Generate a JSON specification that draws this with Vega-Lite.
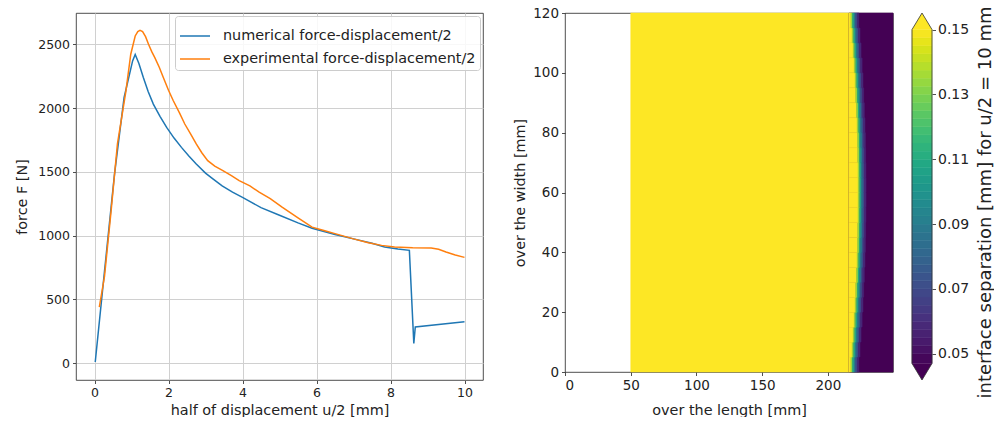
{
  "$schema": "https://vega.github.io/schema/vega-lite/v6.json",
  "padding": {"left": 14, "top": 5, "right": 0, "bottom": 0},
  "background": "white",
  "config": {
    "font": "DejaVu Sans",
    "view": {"stroke": "#222222", "strokeWidth": 0.8},
    "axis": {
      "labelFont": "DejaVu Sans", "titleFont": "DejaVu Sans",
      "labelFontSize": 12.5, "titleFontSize": 14.4, "titleFontWeight": "normal",
      "labelColor": "#222222", "titleColor": "#222222", "tickColor": "#222222",
      "tickSize": 3.5, "tickWidth": 0.8, "labelPadding": 3, "domain": false, "grid": false
    },
    "legend": {
      "labelFont": "DejaVu Sans", "labelFontSize": 14.4, "labelColor": "#222222", "labelLimit": 0,
      "symbolType": "stroke", "symbolStrokeWidth": 1.5, "symbolSize": 900,
      "fillColor": "rgba(255,255,255,0.85)", "strokeColor": "#cccccc", "cornerRadius": 3,
      "padding": 4, "rowPadding": -3, "labelOffset": 12
    }
  },
  "bounds": "flush",
  "spacing": 82,
  "resolve": {"scale": {"color": "independent"}, "legend": {"color": "independent"}},
  "hconcat": [
    {
      "width": 407,
      "height": 367,
      "data": {"values": [
        {"s": "numerical force-displacement/2", "u": 0.02, "F": 10},
        {"s": "numerical force-displacement/2", "u": 0.27, "F": 720},
        {"s": "numerical force-displacement/2", "u": 0.54, "F": 1480},
        {"s": "numerical force-displacement/2", "u": 0.8, "F": 2083},
        {"s": "numerical force-displacement/2", "u": 1.03, "F": 2370},
        {"s": "numerical force-displacement/2", "u": 1.1, "F": 2420},
        {"s": "numerical force-displacement/2", "u": 1.2, "F": 2350},
        {"s": "numerical force-displacement/2", "u": 1.32, "F": 2239},
        {"s": "numerical force-displacement/2", "u": 1.45, "F": 2130},
        {"s": "numerical force-displacement/2", "u": 1.59, "F": 2031},
        {"s": "numerical force-displacement/2", "u": 1.77, "F": 1935},
        {"s": "numerical force-displacement/2", "u": 1.95, "F": 1848},
        {"s": "numerical force-displacement/2", "u": 2.15, "F": 1765},
        {"s": "numerical force-displacement/2", "u": 2.35, "F": 1692},
        {"s": "numerical force-displacement/2", "u": 2.55, "F": 1625},
        {"s": "numerical force-displacement/2", "u": 2.75, "F": 1562},
        {"s": "numerical force-displacement/2", "u": 3.0, "F": 1490},
        {"s": "numerical force-displacement/2", "u": 3.2, "F": 1445},
        {"s": "numerical force-displacement/2", "u": 3.45, "F": 1390},
        {"s": "numerical force-displacement/2", "u": 3.73, "F": 1341},
        {"s": "numerical force-displacement/2", "u": 4.0, "F": 1300},
        {"s": "numerical force-displacement/2", "u": 4.5, "F": 1220},
        {"s": "numerical force-displacement/2", "u": 5.0, "F": 1160},
        {"s": "numerical force-displacement/2", "u": 5.5, "F": 1100},
        {"s": "numerical force-displacement/2", "u": 5.88, "F": 1058},
        {"s": "numerical force-displacement/2", "u": 6.5, "F": 1010},
        {"s": "numerical force-displacement/2", "u": 7.0, "F": 975},
        {"s": "numerical force-displacement/2", "u": 7.5, "F": 940},
        {"s": "numerical force-displacement/2", "u": 7.84, "F": 911},
        {"s": "numerical force-displacement/2", "u": 8.2, "F": 895},
        {"s": "numerical force-displacement/2", "u": 8.51, "F": 885},
        {"s": "numerical force-displacement/2", "u": 8.63, "F": 156},
        {"s": "numerical force-displacement/2", "u": 8.67, "F": 285},
        {"s": "numerical force-displacement/2", "u": 10.0, "F": 325},
        {"s": "experimental force-displacement/2", "u": 0.13, "F": 440},
        {"s": "experimental force-displacement/2", "u": 0.27, "F": 680},
        {"s": "experimental force-displacement/2", "u": 0.45, "F": 1198},
        {"s": "experimental force-displacement/2", "u": 0.62, "F": 1719},
        {"s": "experimental force-displacement/2", "u": 0.85, "F": 2135},
        {"s": "experimental force-displacement/2", "u": 0.98, "F": 2422},
        {"s": "experimental force-displacement/2", "u": 1.1, "F": 2565},
        {"s": "experimental force-displacement/2", "u": 1.17, "F": 2600},
        {"s": "experimental force-displacement/2", "u": 1.23, "F": 2609},
        {"s": "experimental force-displacement/2", "u": 1.3, "F": 2600},
        {"s": "experimental force-displacement/2", "u": 1.38, "F": 2560},
        {"s": "experimental force-displacement/2", "u": 1.46, "F": 2500},
        {"s": "experimental force-displacement/2", "u": 1.55, "F": 2440},
        {"s": "experimental force-displacement/2", "u": 1.63, "F": 2395},
        {"s": "experimental force-displacement/2", "u": 1.75, "F": 2320},
        {"s": "experimental force-displacement/2", "u": 1.86, "F": 2239},
        {"s": "experimental force-displacement/2", "u": 2.0, "F": 2140},
        {"s": "experimental force-displacement/2", "u": 2.13, "F": 2057},
        {"s": "experimental force-displacement/2", "u": 2.3, "F": 1960},
        {"s": "experimental force-displacement/2", "u": 2.44, "F": 1875},
        {"s": "experimental force-displacement/2", "u": 2.6, "F": 1795},
        {"s": "experimental force-displacement/2", "u": 2.75, "F": 1719},
        {"s": "experimental force-displacement/2", "u": 2.9, "F": 1650},
        {"s": "experimental force-displacement/2", "u": 3.06, "F": 1588},
        {"s": "experimental force-displacement/2", "u": 3.25, "F": 1545},
        {"s": "experimental force-displacement/2", "u": 3.47, "F": 1510},
        {"s": "experimental force-displacement/2", "u": 3.7, "F": 1470},
        {"s": "experimental force-displacement/2", "u": 3.91, "F": 1432},
        {"s": "experimental force-displacement/2", "u": 4.2, "F": 1390},
        {"s": "experimental force-displacement/2", "u": 4.45, "F": 1341},
        {"s": "experimental force-displacement/2", "u": 4.75, "F": 1290},
        {"s": "experimental force-displacement/2", "u": 5.07, "F": 1223},
        {"s": "experimental force-displacement/2", "u": 5.5, "F": 1140},
        {"s": "experimental force-displacement/2", "u": 5.88, "F": 1067},
        {"s": "experimental force-displacement/2", "u": 6.2, "F": 1040},
        {"s": "experimental force-displacement/2", "u": 6.5, "F": 1016},
        {"s": "experimental force-displacement/2", "u": 7.0, "F": 975},
        {"s": "experimental force-displacement/2", "u": 7.4, "F": 945},
        {"s": "experimental force-displacement/2", "u": 7.76, "F": 924},
        {"s": "experimental force-displacement/2", "u": 8.11, "F": 911},
        {"s": "experimental force-displacement/2", "u": 8.6, "F": 905},
        {"s": "experimental force-displacement/2", "u": 9.1, "F": 903},
        {"s": "experimental force-displacement/2", "u": 9.3, "F": 893},
        {"s": "experimental force-displacement/2", "u": 9.5, "F": 872},
        {"s": "experimental force-displacement/2", "u": 9.75, "F": 848},
        {"s": "experimental force-displacement/2", "u": 10.0, "F": 830}
      ]},
      "mark": {"type": "line", "strokeWidth": 1.5},
      "encoding": {
        "x": {"field": "u", "type": "quantitative",
          "scale": {"domain": [-0.5, 10.5], "nice": false, "zero": false},
          "axis": {"values": [0, 2, 4, 6, 8, 10], "format": "d", "title": "half of displacement u/2 [mm]", "grid": true, "gridColor": "#d0d0d0", "gridWidth": 1, "titlePadding": 4}},
        "y": {"field": "F", "type": "quantitative",
          "scale": {"domain": [-131, 2745], "nice": false, "zero": false},
          "axis": {"values": [0, 500, 1000, 1500, 2000, 2500], "format": "d", "title": "force F [N]", "grid": true, "gridColor": "#d0d0d0", "gridWidth": 1, "titlePadding": 8}},
        "color": {"field": "s", "type": "nominal",
          "scale": {"domain": ["numerical force-displacement/2", "experimental force-displacement/2"], "range": ["#1f77b4", "#ff7f0e"]},
          "legend": {"title": null, "orient": "top-right", "offset": 3}}
      }
    },
    {
      "bounds": "flush",
      "spacing": 19,
      "hconcat": [
        {
          "width": 328,
          "height": 359,
          "data": {"values": [
            {"x0": 50, "x1": 216.5, "y0": 0, "y1": 120, "v": 0.16},
            {"x0": 216, "x1": 249.5, "y0": 0, "y1": 120, "v": 0.045},
            {"y0": 0, "y1": 5, "x0": 216, "x1": 217.5, "v": 0.16},
            {"y0": 0, "y1": 5, "x0": 217.5, "x1": 218.7, "v": 0.135},
            {"y0": 0, "y1": 5, "x0": 218.7, "x1": 219.9, "v": 0.11},
            {"y0": 0, "y1": 5, "x0": 219.9, "x1": 221.1, "v": 0.09},
            {"y0": 0, "y1": 5, "x0": 221.1, "x1": 222.3, "v": 0.072},
            {"y0": 0, "y1": 5, "x0": 222.3, "x1": 223.5, "v": 0.058},
            {"y0": 5, "y1": 10, "x0": 216, "x1": 218.4, "v": 0.16},
            {"y0": 5, "y1": 10, "x0": 218.4, "x1": 219.6, "v": 0.135},
            {"y0": 5, "y1": 10, "x0": 219.6, "x1": 220.8, "v": 0.11},
            {"y0": 5, "y1": 10, "x0": 220.8, "x1": 222.0, "v": 0.09},
            {"y0": 5, "y1": 10, "x0": 222.0, "x1": 223.2, "v": 0.072},
            {"y0": 5, "y1": 10, "x0": 223.2, "x1": 224.4, "v": 0.058},
            {"y0": 10, "y1": 15, "x0": 216, "x1": 219.2, "v": 0.16},
            {"y0": 10, "y1": 15, "x0": 219.2, "x1": 220.4, "v": 0.135},
            {"y0": 10, "y1": 15, "x0": 220.4, "x1": 221.6, "v": 0.11},
            {"y0": 10, "y1": 15, "x0": 221.6, "x1": 222.8, "v": 0.09},
            {"y0": 10, "y1": 15, "x0": 222.8, "x1": 224.0, "v": 0.072},
            {"y0": 10, "y1": 15, "x0": 224.0, "x1": 225.2, "v": 0.058},
            {"y0": 15, "y1": 20, "x0": 216, "x1": 220.0, "v": 0.16},
            {"y0": 15, "y1": 20, "x0": 220.0, "x1": 221.2, "v": 0.135},
            {"y0": 15, "y1": 20, "x0": 221.2, "x1": 222.4, "v": 0.11},
            {"y0": 15, "y1": 20, "x0": 222.4, "x1": 223.6, "v": 0.09},
            {"y0": 15, "y1": 20, "x0": 223.6, "x1": 224.8, "v": 0.072},
            {"y0": 15, "y1": 20, "x0": 224.8, "x1": 226.0, "v": 0.058},
            {"y0": 20, "y1": 25, "x0": 216, "x1": 220.7, "v": 0.16},
            {"y0": 20, "y1": 25, "x0": 220.7, "x1": 221.9, "v": 0.135},
            {"y0": 20, "y1": 25, "x0": 221.9, "x1": 223.1, "v": 0.11},
            {"y0": 20, "y1": 25, "x0": 223.1, "x1": 224.3, "v": 0.09},
            {"y0": 20, "y1": 25, "x0": 224.3, "x1": 225.5, "v": 0.072},
            {"y0": 20, "y1": 25, "x0": 225.5, "x1": 226.7, "v": 0.058},
            {"y0": 25, "y1": 30, "x0": 216, "x1": 221.2, "v": 0.16},
            {"y0": 25, "y1": 30, "x0": 221.2, "x1": 222.4, "v": 0.135},
            {"y0": 25, "y1": 30, "x0": 222.4, "x1": 223.6, "v": 0.11},
            {"y0": 25, "y1": 30, "x0": 223.6, "x1": 224.8, "v": 0.09},
            {"y0": 25, "y1": 30, "x0": 224.8, "x1": 226.0, "v": 0.072},
            {"y0": 25, "y1": 30, "x0": 226.0, "x1": 227.2, "v": 0.058},
            {"y0": 30, "y1": 35, "x0": 216, "x1": 221.7, "v": 0.16},
            {"y0": 30, "y1": 35, "x0": 221.7, "x1": 222.9, "v": 0.135},
            {"y0": 30, "y1": 35, "x0": 222.9, "x1": 224.1, "v": 0.11},
            {"y0": 30, "y1": 35, "x0": 224.1, "x1": 225.3, "v": 0.09},
            {"y0": 30, "y1": 35, "x0": 225.3, "x1": 226.5, "v": 0.072},
            {"y0": 30, "y1": 35, "x0": 226.5, "x1": 227.7, "v": 0.058},
            {"y0": 35, "y1": 40, "x0": 216, "x1": 222.2, "v": 0.16},
            {"y0": 35, "y1": 40, "x0": 222.2, "x1": 223.4, "v": 0.135},
            {"y0": 35, "y1": 40, "x0": 223.4, "x1": 224.6, "v": 0.11},
            {"y0": 35, "y1": 40, "x0": 224.6, "x1": 225.8, "v": 0.09},
            {"y0": 35, "y1": 40, "x0": 225.8, "x1": 227.0, "v": 0.072},
            {"y0": 35, "y1": 40, "x0": 227.0, "x1": 228.2, "v": 0.058},
            {"y0": 40, "y1": 45, "x0": 216, "x1": 222.5, "v": 0.16},
            {"y0": 40, "y1": 45, "x0": 222.5, "x1": 223.7, "v": 0.135},
            {"y0": 40, "y1": 45, "x0": 223.7, "x1": 224.9, "v": 0.11},
            {"y0": 40, "y1": 45, "x0": 224.9, "x1": 226.1, "v": 0.09},
            {"y0": 40, "y1": 45, "x0": 226.1, "x1": 227.3, "v": 0.072},
            {"y0": 40, "y1": 45, "x0": 227.3, "x1": 228.5, "v": 0.058},
            {"y0": 45, "y1": 50, "x0": 216, "x1": 222.7, "v": 0.16},
            {"y0": 45, "y1": 50, "x0": 222.7, "x1": 223.9, "v": 0.135},
            {"y0": 45, "y1": 50, "x0": 223.9, "x1": 225.1, "v": 0.11},
            {"y0": 45, "y1": 50, "x0": 225.1, "x1": 226.3, "v": 0.09},
            {"y0": 45, "y1": 50, "x0": 226.3, "x1": 227.5, "v": 0.072},
            {"y0": 45, "y1": 50, "x0": 227.5, "x1": 228.7, "v": 0.058},
            {"y0": 50, "y1": 55, "x0": 216, "x1": 222.9, "v": 0.16},
            {"y0": 50, "y1": 55, "x0": 222.9, "x1": 224.1, "v": 0.135},
            {"y0": 50, "y1": 55, "x0": 224.1, "x1": 225.3, "v": 0.11},
            {"y0": 50, "y1": 55, "x0": 225.3, "x1": 226.5, "v": 0.09},
            {"y0": 50, "y1": 55, "x0": 226.5, "x1": 227.7, "v": 0.072},
            {"y0": 50, "y1": 55, "x0": 227.7, "x1": 228.9, "v": 0.058},
            {"y0": 55, "y1": 60, "x0": 216, "x1": 223.0, "v": 0.16},
            {"y0": 55, "y1": 60, "x0": 223.0, "x1": 224.2, "v": 0.135},
            {"y0": 55, "y1": 60, "x0": 224.2, "x1": 225.4, "v": 0.11},
            {"y0": 55, "y1": 60, "x0": 225.4, "x1": 226.6, "v": 0.09},
            {"y0": 55, "y1": 60, "x0": 226.6, "x1": 227.8, "v": 0.072},
            {"y0": 55, "y1": 60, "x0": 227.8, "x1": 229.0, "v": 0.058},
            {"y0": 60, "y1": 65, "x0": 216, "x1": 223.0, "v": 0.16},
            {"y0": 60, "y1": 65, "x0": 223.0, "x1": 224.2, "v": 0.135},
            {"y0": 60, "y1": 65, "x0": 224.2, "x1": 225.4, "v": 0.11},
            {"y0": 60, "y1": 65, "x0": 225.4, "x1": 226.6, "v": 0.09},
            {"y0": 60, "y1": 65, "x0": 226.6, "x1": 227.8, "v": 0.072},
            {"y0": 60, "y1": 65, "x0": 227.8, "x1": 229.0, "v": 0.058},
            {"y0": 65, "y1": 70, "x0": 216, "x1": 222.9, "v": 0.16},
            {"y0": 65, "y1": 70, "x0": 222.9, "x1": 224.1, "v": 0.135},
            {"y0": 65, "y1": 70, "x0": 224.1, "x1": 225.3, "v": 0.11},
            {"y0": 65, "y1": 70, "x0": 225.3, "x1": 226.5, "v": 0.09},
            {"y0": 65, "y1": 70, "x0": 226.5, "x1": 227.7, "v": 0.072},
            {"y0": 65, "y1": 70, "x0": 227.7, "x1": 228.9, "v": 0.058},
            {"y0": 70, "y1": 75, "x0": 216, "x1": 222.7, "v": 0.16},
            {"y0": 70, "y1": 75, "x0": 222.7, "x1": 223.9, "v": 0.135},
            {"y0": 70, "y1": 75, "x0": 223.9, "x1": 225.1, "v": 0.11},
            {"y0": 70, "y1": 75, "x0": 225.1, "x1": 226.3, "v": 0.09},
            {"y0": 70, "y1": 75, "x0": 226.3, "x1": 227.5, "v": 0.072},
            {"y0": 70, "y1": 75, "x0": 227.5, "x1": 228.7, "v": 0.058},
            {"y0": 75, "y1": 80, "x0": 216, "x1": 222.5, "v": 0.16},
            {"y0": 75, "y1": 80, "x0": 222.5, "x1": 223.7, "v": 0.135},
            {"y0": 75, "y1": 80, "x0": 223.7, "x1": 224.9, "v": 0.11},
            {"y0": 75, "y1": 80, "x0": 224.9, "x1": 226.1, "v": 0.09},
            {"y0": 75, "y1": 80, "x0": 226.1, "x1": 227.3, "v": 0.072},
            {"y0": 75, "y1": 80, "x0": 227.3, "x1": 228.5, "v": 0.058},
            {"y0": 80, "y1": 85, "x0": 216, "x1": 222.2, "v": 0.16},
            {"y0": 80, "y1": 85, "x0": 222.2, "x1": 223.4, "v": 0.135},
            {"y0": 80, "y1": 85, "x0": 223.4, "x1": 224.6, "v": 0.11},
            {"y0": 80, "y1": 85, "x0": 224.6, "x1": 225.8, "v": 0.09},
            {"y0": 80, "y1": 85, "x0": 225.8, "x1": 227.0, "v": 0.072},
            {"y0": 80, "y1": 85, "x0": 227.0, "x1": 228.2, "v": 0.058},
            {"y0": 85, "y1": 90, "x0": 216, "x1": 221.7, "v": 0.16},
            {"y0": 85, "y1": 90, "x0": 221.7, "x1": 222.9, "v": 0.135},
            {"y0": 85, "y1": 90, "x0": 222.9, "x1": 224.1, "v": 0.11},
            {"y0": 85, "y1": 90, "x0": 224.1, "x1": 225.3, "v": 0.09},
            {"y0": 85, "y1": 90, "x0": 225.3, "x1": 226.5, "v": 0.072},
            {"y0": 85, "y1": 90, "x0": 226.5, "x1": 227.7, "v": 0.058},
            {"y0": 90, "y1": 95, "x0": 216, "x1": 221.2, "v": 0.16},
            {"y0": 90, "y1": 95, "x0": 221.2, "x1": 222.4, "v": 0.135},
            {"y0": 90, "y1": 95, "x0": 222.4, "x1": 223.6, "v": 0.11},
            {"y0": 90, "y1": 95, "x0": 223.6, "x1": 224.8, "v": 0.09},
            {"y0": 90, "y1": 95, "x0": 224.8, "x1": 226.0, "v": 0.072},
            {"y0": 90, "y1": 95, "x0": 226.0, "x1": 227.2, "v": 0.058},
            {"y0": 95, "y1": 100, "x0": 216, "x1": 220.7, "v": 0.16},
            {"y0": 95, "y1": 100, "x0": 220.7, "x1": 221.9, "v": 0.135},
            {"y0": 95, "y1": 100, "x0": 221.9, "x1": 223.1, "v": 0.11},
            {"y0": 95, "y1": 100, "x0": 223.1, "x1": 224.3, "v": 0.09},
            {"y0": 95, "y1": 100, "x0": 224.3, "x1": 225.5, "v": 0.072},
            {"y0": 95, "y1": 100, "x0": 225.5, "x1": 226.7, "v": 0.058},
            {"y0": 100, "y1": 105, "x0": 216, "x1": 220.0, "v": 0.16},
            {"y0": 100, "y1": 105, "x0": 220.0, "x1": 221.2, "v": 0.135},
            {"y0": 100, "y1": 105, "x0": 221.2, "x1": 222.4, "v": 0.11},
            {"y0": 100, "y1": 105, "x0": 222.4, "x1": 223.6, "v": 0.09},
            {"y0": 100, "y1": 105, "x0": 223.6, "x1": 224.8, "v": 0.072},
            {"y0": 100, "y1": 105, "x0": 224.8, "x1": 226.0, "v": 0.058},
            {"y0": 105, "y1": 110, "x0": 216, "x1": 219.2, "v": 0.16},
            {"y0": 105, "y1": 110, "x0": 219.2, "x1": 220.4, "v": 0.135},
            {"y0": 105, "y1": 110, "x0": 220.4, "x1": 221.6, "v": 0.11},
            {"y0": 105, "y1": 110, "x0": 221.6, "x1": 222.8, "v": 0.09},
            {"y0": 105, "y1": 110, "x0": 222.8, "x1": 224.0, "v": 0.072},
            {"y0": 105, "y1": 110, "x0": 224.0, "x1": 225.2, "v": 0.058},
            {"y0": 110, "y1": 115, "x0": 216, "x1": 218.4, "v": 0.16},
            {"y0": 110, "y1": 115, "x0": 218.4, "x1": 219.6, "v": 0.135},
            {"y0": 110, "y1": 115, "x0": 219.6, "x1": 220.8, "v": 0.11},
            {"y0": 110, "y1": 115, "x0": 220.8, "x1": 222.0, "v": 0.09},
            {"y0": 110, "y1": 115, "x0": 222.0, "x1": 223.2, "v": 0.072},
            {"y0": 110, "y1": 115, "x0": 223.2, "x1": 224.4, "v": 0.058},
            {"y0": 115, "y1": 120, "x0": 216, "x1": 217.5, "v": 0.16},
            {"y0": 115, "y1": 120, "x0": 217.5, "x1": 218.7, "v": 0.135},
            {"y0": 115, "y1": 120, "x0": 218.7, "x1": 219.9, "v": 0.11},
            {"y0": 115, "y1": 120, "x0": 219.9, "x1": 221.1, "v": 0.09},
            {"y0": 115, "y1": 120, "x0": 221.1, "x1": 222.3, "v": 0.072},
            {"y0": 115, "y1": 120, "x0": 222.3, "x1": 223.5, "v": 0.058}
          ]},
          "mark": {"type": "rect", "strokeWidth": 0.5},
          "encoding": {
            "x": {"field": "x0", "type": "quantitative",
              "scale": {"domain": [0, 249.5], "nice": false, "zero": false},
              "axis": {"values": [0, 50, 100, 150, 200], "title": "over the length [mm]", "labelFontSize": 13.5, "titlePadding": 11}},
            "x2": {"field": "x1"},
            "y": {"field": "y0", "type": "quantitative",
              "scale": {"domain": [0, 120], "nice": false, "zero": false},
              "axis": {"values": [0, 20, 40, 60, 80, 100, 120], "title": "over the width [mm]", "labelFontSize": 13.5, "titlePadding": 5}},
            "y2": {"field": "y1"},
            "color": {"field": "v", "type": "quantitative",
              "scale": {"scheme": "viridis", "domain": [0.047, 0.15], "clamp": true}, "legend": null},
            "stroke": {"field": "v", "type": "quantitative",
              "scale": {"scheme": "viridis", "domain": [0.047, 0.15], "clamp": true}, "legend": null}
          }
        },
        {
          "width": 20,
          "height": 367,
          "view": {"stroke": null},
          "layer": [
            {
              "data": {"values": [
                {"lo": 0.047, "hi": 0.05, "v": 0.0485},
                {"lo": 0.05, "hi": 0.0525, "v": 0.05125},
                {"lo": 0.0525, "hi": 0.055, "v": 0.05375},
                {"lo": 0.055, "hi": 0.0575, "v": 0.05625},
                {"lo": 0.0575, "hi": 0.06, "v": 0.05875},
                {"lo": 0.06, "hi": 0.0625, "v": 0.06125},
                {"lo": 0.0625, "hi": 0.065, "v": 0.06375},
                {"lo": 0.065, "hi": 0.0675, "v": 0.06625},
                {"lo": 0.0675, "hi": 0.07, "v": 0.06875},
                {"lo": 0.07, "hi": 0.0725, "v": 0.07125},
                {"lo": 0.0725, "hi": 0.075, "v": 0.07375},
                {"lo": 0.075, "hi": 0.0775, "v": 0.07625},
                {"lo": 0.0775, "hi": 0.08, "v": 0.07875},
                {"lo": 0.08, "hi": 0.0825, "v": 0.08125},
                {"lo": 0.0825, "hi": 0.085, "v": 0.08375},
                {"lo": 0.085, "hi": 0.0875, "v": 0.08625},
                {"lo": 0.0875, "hi": 0.09, "v": 0.08875},
                {"lo": 0.09, "hi": 0.0925, "v": 0.09125},
                {"lo": 0.0925, "hi": 0.095, "v": 0.09375},
                {"lo": 0.095, "hi": 0.0975, "v": 0.09625},
                {"lo": 0.0975, "hi": 0.1, "v": 0.09875},
                {"lo": 0.1, "hi": 0.1025, "v": 0.10125},
                {"lo": 0.1025, "hi": 0.105, "v": 0.10375},
                {"lo": 0.105, "hi": 0.1075, "v": 0.10625},
                {"lo": 0.1075, "hi": 0.11, "v": 0.10875},
                {"lo": 0.11, "hi": 0.1125, "v": 0.11125},
                {"lo": 0.1125, "hi": 0.115, "v": 0.11375},
                {"lo": 0.115, "hi": 0.1175, "v": 0.11625},
                {"lo": 0.1175, "hi": 0.12, "v": 0.11875},
                {"lo": 0.12, "hi": 0.1225, "v": 0.12125},
                {"lo": 0.1225, "hi": 0.125, "v": 0.12375},
                {"lo": 0.125, "hi": 0.1275, "v": 0.12625},
                {"lo": 0.1275, "hi": 0.13, "v": 0.12875},
                {"lo": 0.13, "hi": 0.1325, "v": 0.13125},
                {"lo": 0.1325, "hi": 0.135, "v": 0.13375},
                {"lo": 0.135, "hi": 0.1375, "v": 0.13625},
                {"lo": 0.1375, "hi": 0.14, "v": 0.13875},
                {"lo": 0.14, "hi": 0.1425, "v": 0.14125},
                {"lo": 0.1425, "hi": 0.145, "v": 0.14375},
                {"lo": 0.145, "hi": 0.1475, "v": 0.14625},
                {"lo": 0.1475, "hi": 0.15, "v": 0.14875}
              ]},
              "mark": {"type": "rect", "strokeWidth": 0.5},
              "encoding": {
                "x": {"datum": 0, "type": "quantitative", "scale": {"domain": [0, 1], "nice": false, "zero": false}, "axis": null},
                "x2": {"datum": 1},
                "y": {"field": "lo", "type": "quantitative",
                  "scale": {"domain": [0.0419, 0.1551], "nice": false, "zero": false},
                  "axis": {"orient": "right", "values": [0.05, 0.07, 0.09, 0.11, 0.13, 0.15], "format": ".2f",
                    "labelFontSize": 14, "labelPadding": 2,
                    "title": "interface separation [mm] for u/2 = 10 mm", "titleFontSize": 18,
                    "titleAngle": 270, "titleBaseline": "top", "titlePadding": 8, "titleY": 189}},
                "y2": {"field": "hi"},
                "color": {"field": "v", "type": "quantitative",
                  "scale": {"scheme": "viridis", "domain": [0.047, 0.15], "clamp": true}, "legend": null},
                "stroke": {"field": "v", "type": "quantitative",
                  "scale": {"scheme": "viridis", "domain": [0.047, 0.15], "clamp": true}, "legend": null}
              }
            },
            {
              "data": {"values": [
                {"tri": "top", "tx": 0, "ty": 0.15, "base": 0.15, "v": 0.16},
                {"tri": "top", "tx": 0.5, "ty": 0.1551, "base": 0.15, "v": 0.16},
                {"tri": "top", "tx": 1, "ty": 0.15, "base": 0.15, "v": 0.16},
                {"tri": "bottom", "tx": 0, "ty": 0.047, "base": 0.047, "v": 0.04},
                {"tri": "bottom", "tx": 0.5, "ty": 0.0419, "base": 0.047, "v": 0.04},
                {"tri": "bottom", "tx": 1, "ty": 0.047, "base": 0.047, "v": 0.04}
              ]},
              "mark": {"type": "area", "orient": "vertical"},
              "encoding": {
                "x": {"field": "tx", "type": "quantitative"},
                "y": {"field": "ty", "type": "quantitative", "stack": null},
                "y2": {"field": "base"},
                "detail": {"field": "tri"},
                "color": {"field": "v", "type": "quantitative",
                  "scale": {"scheme": "viridis", "domain": [0.047, 0.15], "clamp": true}, "legend": null}
              }
            },
            {
              "data": {"values": [
                {"o": 0, "ox": 0, "oy": 0.15},
                {"o": 1, "ox": 0.5, "oy": 0.1551},
                {"o": 2, "ox": 1, "oy": 0.15},
                {"o": 3, "ox": 1, "oy": 0.047},
                {"o": 4, "ox": 0.5, "oy": 0.0419},
                {"o": 5, "ox": 0, "oy": 0.047},
                {"o": 6, "ox": 0, "oy": 0.15}
              ]},
              "mark": {"type": "line", "color": "#333333", "strokeWidth": 0.8},
              "encoding": {
                "x": {"field": "ox", "type": "quantitative"},
                "y": {"field": "oy", "type": "quantitative"},
                "order": {"field": "o"}
              }
            }
          ]
        }
      ]
    }
  ]
}
